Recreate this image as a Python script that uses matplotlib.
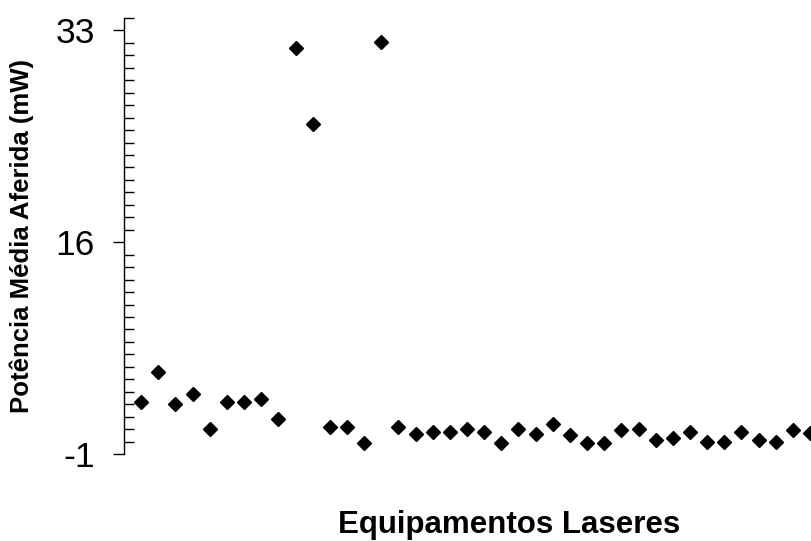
import matplotlib
matplotlib.use("Agg")
import matplotlib.pyplot as plt
from matplotlib.ticker import FixedLocator, MultipleLocator

plt.rcParams['font.family'] = ['Liberation Sans', 'DejaVu Sans']
plt.rcParams['axes.unicode_minus'] = False

# Measured mean power of each laser unit (mW)
equipamentos = list(range(1, 41))
potencia = [3.2, 5.6, 3.0, 3.8, 1.0, 3.2, 3.2, 3.4, 1.8, 31.6,
            25.5, 1.2, 1.2, -0.1, 32.1, 1.2, 0.6, 0.8, 0.8, 1.0,
            0.8, -0.1, 1.0, 0.6, 1.4, 0.5, -0.1, -0.1, 0.9, 1.0,
            0.15, 0.3, 0.8, -0.05, -0.05, 0.8, 0.1, -0.05, 0.9, 0.7]
yticks = [-1, 16, 33]

fig = plt.figure(figsize=(8.11, 5.41), dpi=100)
ax = fig.add_axes([124 / 811, 87 / 541, 686 / 811, 436 / 541])

ax.plot(equipamentos, potencia, linestyle='none', marker='D',
        markersize=7.2, color='black', clip_on=False)

ax.set_xlim(0, 40)
ax.set_ylim(-1, 34)
ax.yaxis.set_major_locator(FixedLocator(yticks))
ax.yaxis.set_minor_locator(MultipleLocator(1))
ax.set_xticks([])

for side in ('top', 'right', 'bottom'):
    ax.spines[side].set_visible(False)
ax.spines['left'].set_linewidth(1.0)

ax.tick_params(axis='y', which='major', direction='out', length=8,
               width=1.0, labelsize=25.5, pad=13)
ax.tick_params(axis='y', which='minor', direction='in', length=7,
               width=1.0)

fig.text(22 / 811, 1 - 236 / 541, 'Potência Média Aferida (mW)',
         rotation=90, ha='center', va='center', fontsize=18.5,
         fontweight='bold')

fig.text(509 / 811, 1 - 533 / 541, 'Equipamentos Laseres',
         ha='center', va='baseline', fontsize=22.5, fontweight='bold')

fig.savefig('out.png', dpi=100, facecolor='white')
